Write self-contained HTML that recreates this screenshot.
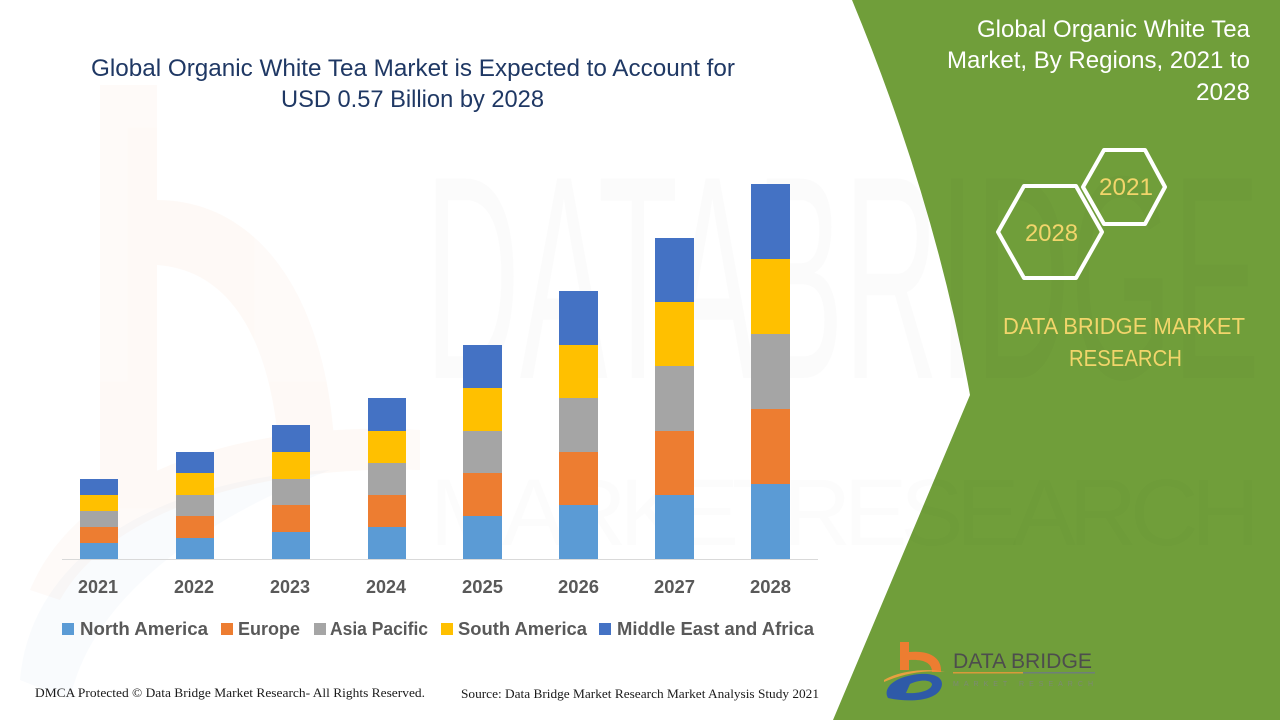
<!DOCTYPE html>
<html>
<head>
<meta charset="utf-8">
<style>
  html,body{margin:0;padding:0;background:#fff;}
  svg{display:block;}
</style>
</head>
<body>
<svg width="1280" height="720" viewBox="0 0 1280 720" xmlns="http://www.w3.org/2000/svg" font-family="'Liberation Sans', sans-serif">
  <rect width="1280" height="720" fill="#ffffff"/>

  <!-- faint watermark: orange b + blue swoosh on left -->
  <g opacity="0.035">
    <rect x="100" y="85" width="57" height="420" fill="#ed7d31"/>
    <path d="M157,200 C260,200 330,300 335,460 L280,470 C275,340 230,270 157,265 Z" fill="#ed7d31"/>
    <path d="M30,590 C80,470 250,420 420,430 L420,470 C260,465 110,510 60,600 Z" fill="#ed7d31"/>
  </g>
  <g opacity="0.03">
    <path d="M20,680 C30,560 150,480 330,470 C200,520 90,600 70,700 Z" fill="#4472c4"/>
  </g>

  <!-- green right panel -->
  <path d="M852,0 Q935,200 970,395 L833,720 L1280,720 L1280,0 Z" fill="#709e3a"/>

  <!-- faint DATA BRIDGE watermark -->
  <text x="425" y="378" font-size="290" fill="#000" fill-opacity="0.014" textLength="835" lengthAdjust="spacingAndGlyphs">DATABRIDGE</text>
  <text x="430" y="545" font-size="95" fill="#000" fill-opacity="0.012" textLength="830" lengthAdjust="spacing">MARKETRESEARCH</text>

  <!-- title -->
  <text x="91" y="76" font-size="24" fill="#1f3864" textLength="644" lengthAdjust="spacingAndGlyphs">Global Organic White Tea Market is Expected to Account for</text>
  <text x="281" y="107" font-size="24" fill="#1f3864" textLength="263" lengthAdjust="spacingAndGlyphs">USD 0.57 Billion by 2028</text>

  <!-- baseline -->
  <line x1="62" y1="559.5" x2="818" y2="559.5" stroke="#d9d9d9" stroke-width="1"/>

  <!-- bars -->
  <g>
    <rect x="80" y="543" width="38" height="16" fill="#5b9bd5"/>
    <rect x="80" y="527" width="38" height="16" fill="#ed7d31"/>
    <rect x="80" y="511" width="38" height="16" fill="#a5a5a5"/>
    <rect x="80" y="495" width="38" height="16" fill="#ffc000"/>
    <rect x="80" y="479" width="38" height="16" fill="#4472c4"/>

    <rect x="176" y="538" width="38" height="21" fill="#5b9bd5"/>
    <rect x="176" y="516" width="38" height="22" fill="#ed7d31"/>
    <rect x="176" y="495" width="38" height="21" fill="#a5a5a5"/>
    <rect x="176" y="473" width="38" height="22" fill="#ffc000"/>
    <rect x="176" y="452" width="38" height="21" fill="#4472c4"/>

    <rect x="272" y="532" width="38" height="27" fill="#5b9bd5"/>
    <rect x="272" y="505" width="38" height="27" fill="#ed7d31"/>
    <rect x="272" y="479" width="38" height="26" fill="#a5a5a5"/>
    <rect x="272" y="452" width="38" height="27" fill="#ffc000"/>
    <rect x="272" y="425" width="38" height="27" fill="#4472c4"/>

    <rect x="368" y="527" width="38" height="32" fill="#5b9bd5"/>
    <rect x="368" y="495" width="38" height="32" fill="#ed7d31"/>
    <rect x="368" y="463" width="38" height="32" fill="#a5a5a5"/>
    <rect x="368" y="431" width="38" height="32" fill="#ffc000"/>
    <rect x="368" y="398" width="38" height="33" fill="#4472c4"/>

    <rect x="463" y="516" width="39" height="43" fill="#5b9bd5"/>
    <rect x="463" y="473" width="39" height="43" fill="#ed7d31"/>
    <rect x="463" y="431" width="39" height="42" fill="#a5a5a5"/>
    <rect x="463" y="388" width="39" height="43" fill="#ffc000"/>
    <rect x="463" y="345" width="39" height="43" fill="#4472c4"/>

    <rect x="559" y="505" width="39" height="54" fill="#5b9bd5"/>
    <rect x="559" y="452" width="39" height="53" fill="#ed7d31"/>
    <rect x="559" y="398" width="39" height="54" fill="#a5a5a5"/>
    <rect x="559" y="345" width="39" height="53" fill="#ffc000"/>
    <rect x="559" y="291" width="39" height="54" fill="#4472c4"/>

    <rect x="655" y="495" width="39" height="64" fill="#5b9bd5"/>
    <rect x="655" y="431" width="39" height="64" fill="#ed7d31"/>
    <rect x="655" y="366" width="39" height="65" fill="#a5a5a5"/>
    <rect x="655" y="302" width="39" height="64" fill="#ffc000"/>
    <rect x="655" y="238" width="39" height="64" fill="#4472c4"/>

    <rect x="751" y="484" width="39" height="75" fill="#5b9bd5"/>
    <rect x="751" y="409" width="39" height="75" fill="#ed7d31"/>
    <rect x="751" y="334" width="39" height="75" fill="#a5a5a5"/>
    <rect x="751" y="259" width="39" height="75" fill="#ffc000"/>
    <rect x="751" y="184" width="39" height="75" fill="#4472c4"/>
  </g>

  <!-- year labels -->
  <g font-size="18" font-weight="bold" fill="#595959">
    <text x="78" y="593" textLength="40" lengthAdjust="spacingAndGlyphs">2021</text>
    <text x="174" y="593" textLength="40" lengthAdjust="spacingAndGlyphs">2022</text>
    <text x="270" y="593" textLength="40" lengthAdjust="spacingAndGlyphs">2023</text>
    <text x="366" y="593" textLength="40" lengthAdjust="spacingAndGlyphs">2024</text>
    <text x="462" y="593" textLength="41" lengthAdjust="spacingAndGlyphs">2025</text>
    <text x="558" y="593" textLength="41" lengthAdjust="spacingAndGlyphs">2026</text>
    <text x="654" y="593" textLength="41" lengthAdjust="spacingAndGlyphs">2027</text>
    <text x="750" y="593" textLength="41" lengthAdjust="spacingAndGlyphs">2028</text>
  </g>

  <!-- legend -->
  <rect x="62" y="623" width="12" height="12" fill="#5b9bd5"/>
  <rect x="221" y="623" width="12" height="12" fill="#ed7d31"/>
  <rect x="314" y="623" width="12" height="12" fill="#a5a5a5"/>
  <rect x="441" y="623" width="12" height="12" fill="#ffc000"/>
  <rect x="599" y="623" width="12" height="12" fill="#4472c4"/>
  <g font-size="18" font-weight="bold" fill="#595959">
    <text x="80" y="635" textLength="128" lengthAdjust="spacingAndGlyphs">North America</text>
    <text x="238" y="635" textLength="62" lengthAdjust="spacingAndGlyphs">Europe</text>
    <text x="330" y="635" textLength="98" lengthAdjust="spacingAndGlyphs">Asia Pacific</text>
    <text x="458" y="635" textLength="129" lengthAdjust="spacingAndGlyphs">South America</text>
    <text x="617" y="635" textLength="197" lengthAdjust="spacingAndGlyphs">Middle East and Africa</text>
  </g>

  <!-- footer -->
  <g font-family="'Liberation Serif', serif" font-size="13" fill="#1a1a1a">
    <text x="35" y="697" textLength="390" lengthAdjust="spacingAndGlyphs">DMCA Protected © Data Bridge Market Research- All Rights Reserved.</text>
    <text x="461" y="698" textLength="358" lengthAdjust="spacingAndGlyphs">Source: Data Bridge Market Research Market Analysis Study 2021</text>
  </g>

  <!-- right panel title -->
  <g font-size="24" fill="#ffffff">
    <text x="977" y="37" textLength="273" lengthAdjust="spacingAndGlyphs">Global Organic White Tea</text>
    <text x="947" y="68" textLength="303" lengthAdjust="spacingAndGlyphs">Market, By Regions, 2021 to</text>
    <text x="1196" y="100" textLength="54" lengthAdjust="spacingAndGlyphs">2028</text>
  </g>

  <!-- hexagons -->
  <g fill="none" stroke="#ffffff" stroke-width="4" stroke-linejoin="round">
    <polygon points="1083,187 1104,150 1145,150 1165,187 1145,224 1104,224"/>
    <polygon points="998,232 1024,186 1076,186 1102,232 1076,278 1024,278"/>
  </g>
  <g font-size="24" fill="#f2d56b">
    <text x="1099" y="195" textLength="54" lengthAdjust="spacingAndGlyphs">2021</text>
    <text x="1025" y="241" textLength="53" lengthAdjust="spacingAndGlyphs">2028</text>
  </g>

  <!-- DATA BRIDGE MARKET RESEARCH -->
  <g font-size="23" fill="#f2d56b">
    <text x="1003" y="334" textLength="242" lengthAdjust="spacingAndGlyphs">DATA BRIDGE MARKET</text>
    <text x="1069" y="366" textLength="113" lengthAdjust="spacingAndGlyphs">RESEARCH</text>
  </g>

  <!-- bottom logo -->
  <g>
    <rect x="900" y="642" width="9" height="28" fill="#ed7d31"/>
    <path d="M909,652 C930,650 942,658 941,672 L932,672 C932,663 924,659 909,660 Z" fill="#ed7d31"/>
    <path d="M884,680 C900,670 930,668 945,672 C925,670 905,673 884,682 Z" fill="#e8a040"/>
    <path d="M888,698 C882,688 895,676 920,674 C938,673 946,680 940,690 C934,700 912,703 888,698 Z M906,693 C920,694 932,690 932,684 C930,679 918,680 910,684 Z" fill="#2e5aa8" fill-rule="evenodd"/>
    <text x="953" y="668" font-size="21" fill="#4d4d4d" textLength="139" lengthAdjust="spacingAndGlyphs">DATA BRIDGE</text>
    <rect x="953" y="672" width="70" height="1.5" fill="#d89a3a"/>
    <rect x="1023" y="672" width="72" height="1.5" fill="#6e7f7a"/>
    <text x="953" y="686" font-size="7" fill="#7d8a74" textLength="140" lengthAdjust="spacing">MARKET RESEARCH</text>
  </g>
</svg>
</body>
</html>
